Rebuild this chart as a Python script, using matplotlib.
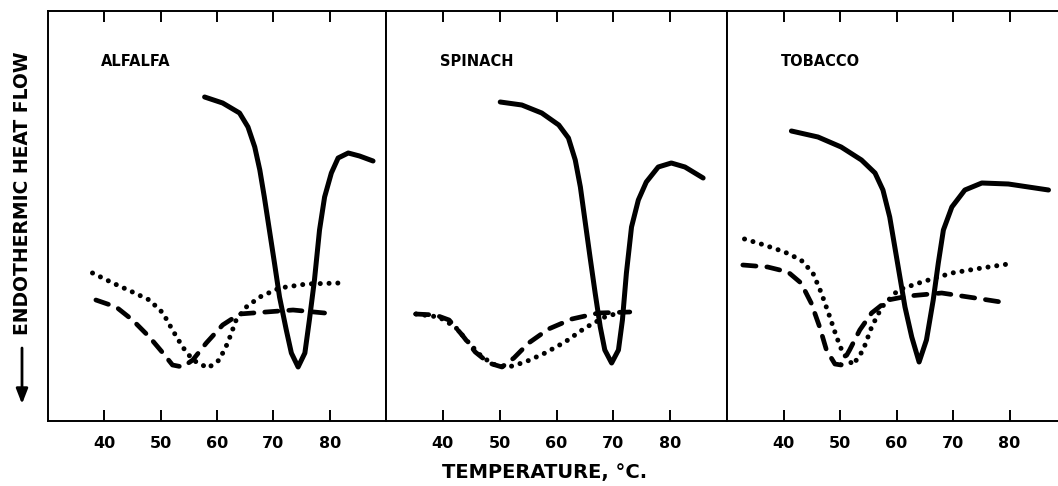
import matplotlib
matplotlib.use("Agg")
import matplotlib.pyplot as plt
from matplotlib.patches import FancyArrowPatch

# heat flow in arbitrary units (height above the bottom frame)
alfalfa_solid_t = [57.8, 61.0, 64.0, 65.5, 66.7, 67.6, 68.4, 69.3, 70.2, 71.1, 72.3, 73.2, 74.4,
                   75.6, 76.4, 77.3, 78.2, 79.1, 80.3, 81.5, 83.3, 85.3, 87.7]
alfalfa_solid_h = [324, 318, 308, 294, 274, 251, 224, 191, 158, 124, 91, 68, 54,
                   68, 101, 141, 191, 224, 248, 263, 268, 265, 260]
alfalfa_dot_t = [37.9, 41.5, 45.0, 48.0, 50.4, 52.1, 53.9, 55.7, 58.4, 60.4, 61.9, 63.4, 65.2,
                 67.6, 71.1, 75.9, 81.8]
alfalfa_dot_h = [148, 138, 129, 121, 108, 91, 74, 61, 53, 61, 78, 101, 114,
                 124, 133, 137, 138]
alfalfa_dash_t = [38.5, 42.1, 45.0, 48.0, 50.4, 52.1, 53.9, 55.7, 58.1, 61.0, 64.0, 68.7, 73.5, 79.1]
alfalfa_dash_h = [121, 114, 101, 84, 68, 56, 54, 61, 78, 96, 107, 109, 111, 108]

spinach_solid_t = [50.1, 53.9, 57.4, 60.4, 62.1, 63.3, 64.2, 65.0, 65.9, 66.8, 67.7, 68.5, 69.7,
                   70.9, 71.6, 72.3, 73.2, 74.4, 75.8, 77.9, 80.2, 82.6, 85.8]
spinach_solid_h = [319, 316, 308, 296, 283, 261, 234, 201, 164, 128, 94, 71, 58,
                   71, 101, 148, 194, 221, 239, 254, 258, 254, 243]
spinach_dot_t = [35.3, 39.3, 42.2, 44.6, 46.9, 49.2, 51.6, 54.5, 58.0, 61.5, 65.0, 68.5, 70.9]
spinach_dot_h = [107, 104, 94, 78, 64, 56, 54, 59, 68, 79, 93, 104, 108]
spinach_dash_t = [35.2, 38.7, 41.1, 43.4, 45.7, 48.1, 50.4, 52.5, 55.1, 58.6, 62.7, 67.4, 72.9]
spinach_dash_h = [107, 106, 101, 86, 69, 58, 54, 63, 78, 92, 102, 108, 109]

tobacco_solid_t = [41.4, 46.1, 50.2, 53.8, 56.2, 57.6, 58.8, 59.7, 60.6, 61.5, 62.7, 64.0, 65.3,
                   66.5, 67.4, 68.3, 69.8, 72.1, 75.1, 79.8, 86.9]
tobacco_solid_h = [290, 284, 274, 261, 248, 231, 204, 174, 144, 114, 84, 59, 81,
                   121, 158, 191, 214, 231, 238, 237, 231]
tobacco_dot_t = [33.1, 36.6, 40.2, 43.1, 45.2, 46.7, 48.2, 49.4, 50.5, 52.3, 54.1, 55.6, 57.4,
                 60.3, 64.5, 69.8, 75.1, 79.8]
tobacco_dot_h = [182, 176, 169, 161, 148, 128, 104, 84, 68, 56, 71, 94, 114,
                 131, 139, 148, 153, 157]
tobacco_dash_t = [32.8, 37.2, 40.8, 43.1, 44.9, 46.4, 47.6, 49.1, 50.2, 51.7, 53.5, 55.6, 58.5,
                  62.1, 68.0, 73.9, 79.6]
tobacco_dash_h = [156, 154, 149, 138, 118, 94, 71, 57, 56, 71, 91, 108, 121,
                  125, 128, 123, 118]

panel_names = ["ALFALFA", "SPINACH", "TOBACCO"]
ticks = [40, 50, 60, 70, 80]

panels = [
    (alfalfa_solid_t, alfalfa_solid_h, alfalfa_dot_t, alfalfa_dot_h, alfalfa_dash_t, alfalfa_dash_h),
    (spinach_solid_t, spinach_solid_h, spinach_dot_t, spinach_dot_h, spinach_dash_t, spinach_dash_h),
    (tobacco_solid_t, tobacco_solid_h, tobacco_dot_t, tobacco_dot_h, tobacco_dash_t, tobacco_dash_h),
]

W, H = 1058, 486
fig = plt.figure(figsize=(W / 100, H / 100), dpi=100)

# panel edges in pixels
lefts = [48, 386, 727]
rights = [386, 727, 1066]
top_px, bot_px = 11, 421

for i, (st, sh, dt, dh, qt, qh) in enumerate(panels):
    ax = fig.add_axes([lefts[i] / W, 1 - bot_px / H,
                       (rights[i] - lefts[i]) / W, (bot_px - top_px) / H])
    ax.plot(st, sh, color="black", lw=3.6, solid_capstyle="round", solid_joinstyle="round")
    ax.plot(dt, dh, color="black", lw=3.6, linestyle=(0, (0.01, 1.75)), dash_capstyle="round")
    ax.plot(qt, qh, color="black", lw=3.4, linestyle=(0, (2.8, 2.3)), dash_capstyle="round")
    ax.set_xlim(30, 90)
    ax.set_ylim(0, 410)
    ax.set_xticks(ticks)
    ax.set_xticklabels([str(t) for t in ticks], fontsize=11.5, fontweight="bold")
    ax.set_yticks([])
    ax.tick_params(axis="x", direction="in", length=8, width=1.4, top=True, pad=11)
    for s in ax.spines.values():
        s.set_linewidth(1.4)
    if i == 2:
        ax.spines["right"].set_visible(False)
    ax.text(0.158, 0.877, panel_names[i], transform=ax.transAxes, fontsize=10.5,
            fontweight="bold", va="center", ha="left")

fig.text(545 / W, 1 - 472 / H, "TEMPERATURE, \u00b0C.", fontsize=14, fontweight="bold",
         ha="center", va="center")
fig.text(23 / W, 1 - 193 / H, "ENDOTHERMIC HEAT FLOW", fontsize=13.5, fontweight="bold",
         rotation=90, ha="center", va="center")
fig.add_artist(FancyArrowPatch(
    (22 / W, 1 - 348 / H), (22 / W, 1 - 404 / H), transform=fig.transFigure,
    arrowstyle="-|>,head_length=9,head_width=3.5", color="black", lw=2.0,
    shrinkA=0, shrinkB=0))

fig.savefig("out.png", dpi=100)
